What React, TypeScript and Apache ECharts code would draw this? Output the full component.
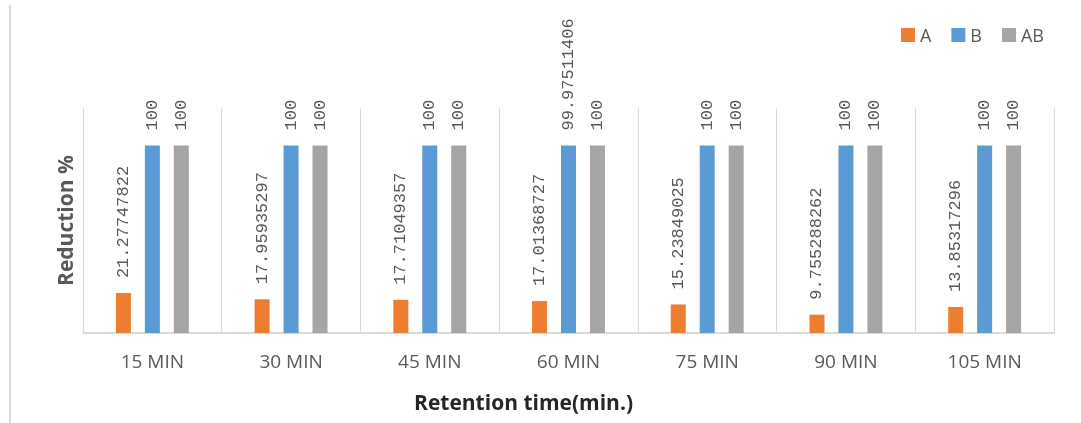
import React, { useEffect, useRef } from "react";
import * as echarts from "echarts";

const categories = ["15 MIN", "30 MIN", "45 MIN", "60 MIN", "75 MIN", "90 MIN", "105 MIN"];
const seriesA = [21.27747822, 17.95935297, 17.71049357, 17.01368727, 15.23849025, 9.755288262, 13.85317296];
const seriesB = [100, 100, 100, 99.97511406, 100, 100, 100];
const seriesAB = [100, 100, 100, 100, 100, 100, 100];
const seriesNames = ["A", "B", "AB"];
const colors = ["#ED7D31", "#5B9BD5", "#A5A5A5"];

export default function App() {
  const ref = useRef<HTMLDivElement>(null);
  useEffect(() => {
    if (!ref.current) return;
    const chart = echarts.init(ref.current, null, { renderer: "svg" });
    const label = {
      show: true,
      position: "top",
      rotate: 90,
      distance: 15,
      align: "left",
      verticalAlign: "middle",
      fontFamily: "Liberation Mono",
      fontSize: 17,
      color: "#595959",
      formatter: (p: any) => String(p.value),
    };
    const data = [seriesA, seriesB, seriesAB];
    chart.setOption({
      animation: false,
      grid: { left: 83, right: 27, top: 108, bottom: 90 },
      legend: {
        right: 32,
        top: 21,
        itemWidth: 14,
        itemHeight: 14,
        itemGap: 20,
        icon: "rect",
        textStyle: { fontSize: 18, color: "#595959", fontFamily: "Open Sans" },
        data: seriesNames,
      },
      graphic: [
        {
          type: "line",
          shape: { x1: 10, y1: 5, x2: 10, y2: 423 },
          style: { stroke: "#d9d9d9", lineWidth: 2 },
        },
      ],
      xAxis: {
        type: "category",
        data: categories,
        boundaryGap: true,
        axisLine: { show: true, lineStyle: { color: "#d9d9d9", width: 2 } },
        axisTick: { show: false },
        splitLine: { show: true, lineStyle: { color: "#d9d9d9", width: 1 } },
        axisLabel: {
          margin: 18,
          fontSize: 19,
          color: "#595959",
          fontFamily: "Open Sans",
        },
        name: "Retention time(min.)",
        nameLocation: "middle",
        nameGap: 58,
        nameTextStyle: {
          fontSize: 21,
          fontWeight: "bold",
          color: "#262626",
          fontFamily: "Open Sans",
          padding: [0, 90, 0, 0],
        },
      },
      yAxis: {
        type: "value",
        min: 0,
        max: 120,
        axisLine: { show: false },
        axisTick: { show: false },
        axisLabel: { show: false },
        splitLine: { show: false },
        name: "Reduction %",
        nameLocation: "middle",
        nameGap: 8,
        nameTextStyle: {
          fontSize: 21,
          fontWeight: "bold",
          color: "#595959",
          fontFamily: "Open Sans",
        },
      },
      series: seriesNames.map((n, i) => ({
        name: n,
        type: "bar",
        data: data[i],
        barWidth: 15,
        barGap: "93%",
        itemStyle: { color: colors[i] },
        label,
      })),
    });
    return () => chart.dispose();
  }, []);
  return <div ref={ref} style={{ position: "fixed", left: 0, top: 0, width: 1081, height: 423 }} />;
}
